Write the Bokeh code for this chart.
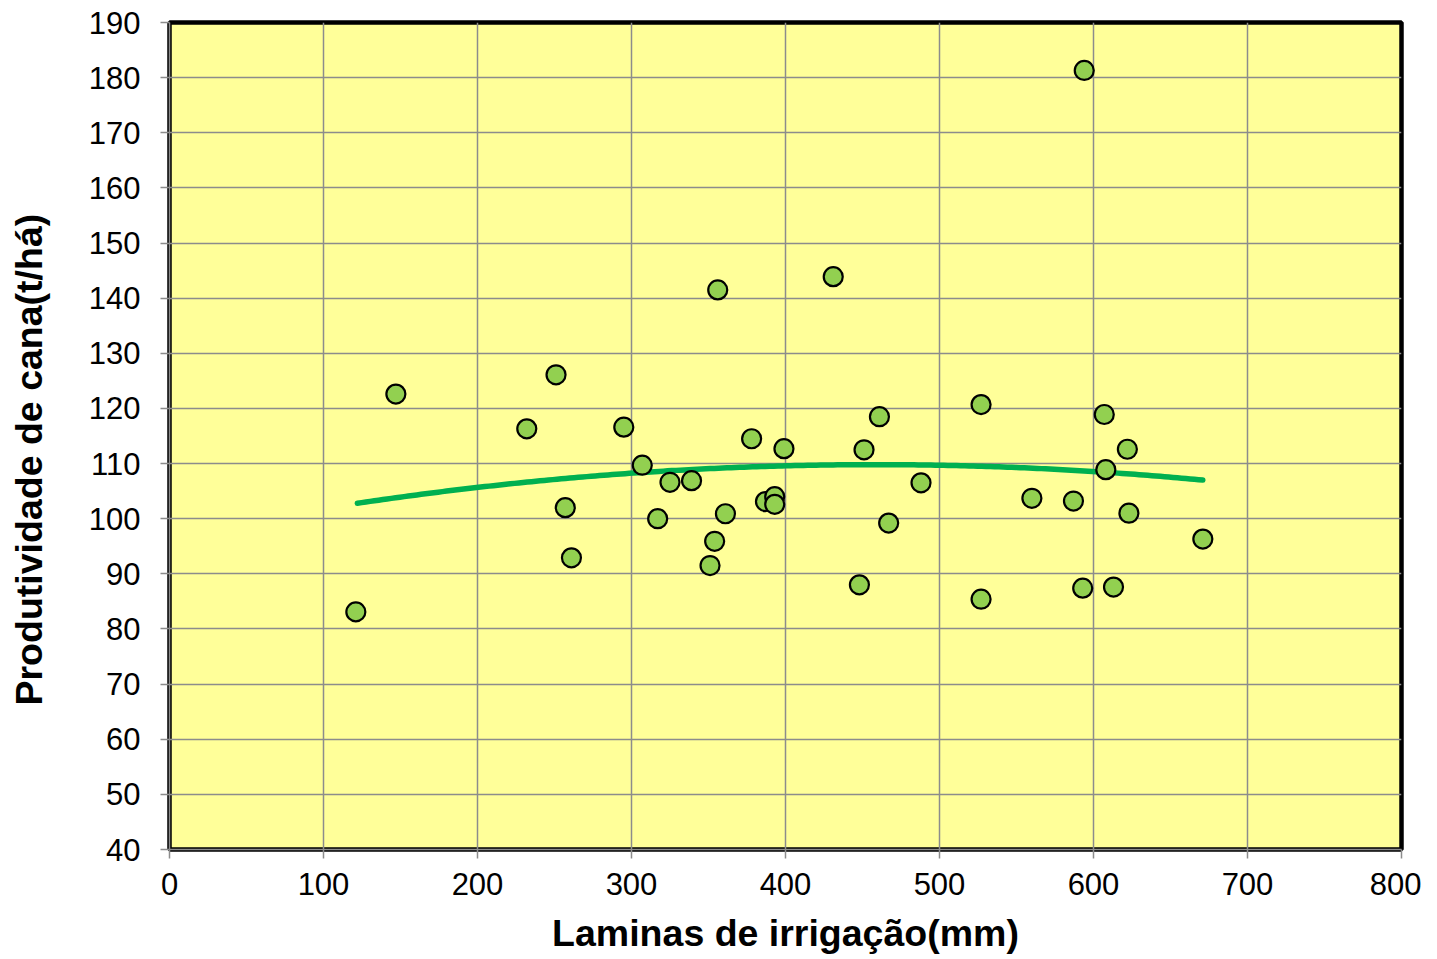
from bokeh.plotting import figure
from bokeh.models import Range1d, FixedTicker, ColumnDataSource, Title
from bokeh.embed import file_html
from bokeh.resources import INLINE
import numpy as np

# Data
laminas_mm = [121, 147, 232, 251, 257, 261, 295, 307, 317, 325, 339, 351, 354, 356,
              361, 378, 387, 393, 393, 399, 431, 448, 451, 461, 467, 488, 527, 527,
              560, 587, 593, 594, 607, 608, 613, 622, 623, 671]
produtividade = [83.1, 122.6, 116.3, 126.1, 102.0, 92.9, 116.6, 109.7, 100.0, 106.6,
                 106.9, 91.5, 95.9, 141.5, 100.9, 114.5, 103.1, 104.0, 102.6, 112.7,
                 143.9, 88.0, 112.5, 118.5, 99.2, 106.5, 120.7, 85.4, 103.7, 103.2,
                 87.4, 181.3, 118.9, 108.9, 87.6, 112.6, 101.0, 96.3]

# Polynomial (2nd order) trendline
trend_coef = [-6.19e-5, 0.05674, 96.8]
trend_x_range = [122, 671]

x_ticks = [0, 100, 200, 300, 400, 500, 600, 700, 800]
y_ticks = list(range(40, 191, 10))

x_title = "Laminas de irrigação(mm)"
y_title = "Produtividade de cana(t/há)"

FONT = "Liberation Sans"

p = figure(frame_width=1232, frame_height=827, output_backend="svg", toolbar_location=None,
           x_range=Range1d(0, 800), y_range=Range1d(40, 190),
           min_border_left=169, min_border_right=20, min_border_top=22, min_border_bottom=100,
           margin=(0, 0, 0, -31))

p.background_fill_color = "#FFFF99"
p.border_fill_color = "white"
p.outline_line_color = "black"
p.outline_line_width = 4.5

p.xgrid.ticker = FixedTicker(ticks=x_ticks)
p.ygrid.ticker = FixedTicker(ticks=y_ticks)
for g in (p.xgrid, p.ygrid):
    g.grid_line_color = "#8c8c8c"
    g.grid_line_width = 1.5

p.xaxis.ticker = FixedTicker(ticks=x_ticks)
p.yaxis.ticker = FixedTicker(ticks=y_ticks)
for ax in (p.xaxis, p.yaxis):
    ax.axis_line_color = "#8c8c8c"
    ax.axis_line_width = 1.5
    ax.major_tick_line_color = "#8c8c8c"
    ax.major_tick_line_width = 1.5
    ax.major_tick_in = 0
    ax.major_tick_out = 9
    ax.minor_tick_line_color = None
    ax.major_label_text_font = FONT
    ax.major_label_text_font_size = "31px"
    ax.major_label_text_color = "black"
    ax.axis_label_text_font = FONT
    ax.axis_label_text_font_size = "37.5px"
    ax.axis_label_text_font_style = "bold"
    ax.axis_label_text_color = "black"

p.xaxis.axis_label = x_title
p.xaxis.major_label_standoff = 14
p.yaxis.major_label_standoff = 20
p.xaxis.axis_label_standoff = 14

# y-axis title, placed off-centre like the reference
p.add_layout(Title(text=y_title, align="left", offset=144, vertical_align="bottom",
                   standoff=72, text_font=FONT, text_font_size="37.5px",
                   text_font_style="bold", text_color="black"), "left")

# trendline
tx = np.linspace(trend_x_range[0], trend_x_range[1], 200)
ty = np.polyval(trend_coef, tx)
p.line(tx, ty, line_color="#00B050", line_width=5.5, line_cap="round")

src = ColumnDataSource(dict(x=laminas_mm, y=produtividade))
p.scatter("x", "y", source=src, size=19, fill_color="#92D050",
          line_color="black", line_width=2.2)

open("out.html", "w").write(file_html(p, INLINE))
